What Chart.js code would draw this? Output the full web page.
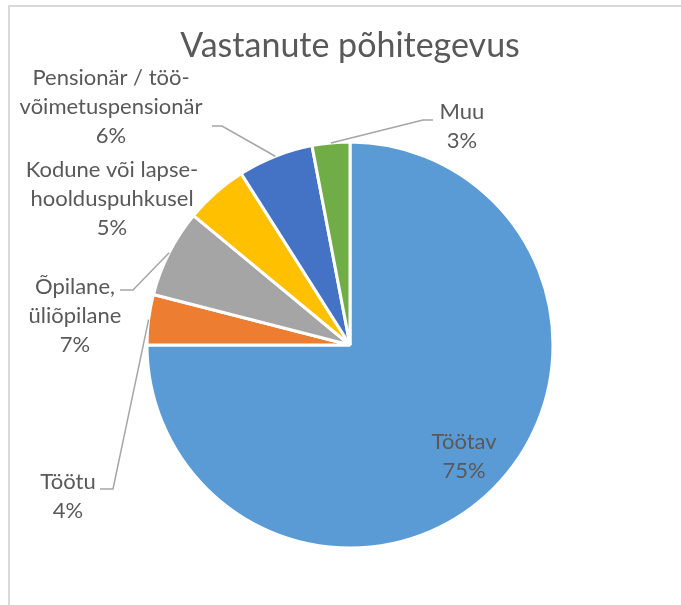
<!DOCTYPE html>
<html>
<head>
<meta charset="utf-8">
<script src="https://cdn.jsdelivr.net/npm/chart.js@4.4.1/dist/chart.umd.min.js"></script>
<style>
  html, body { margin: 0; padding: 0; background: #ffffff; }
  #wrap { position: relative; width: 681px; height: 605px; overflow: hidden; }
  #frame { position: absolute; left: 8px; top: 5px; width: 800px; height: 700px;
           border-top: 2px solid #d9d9d9; border-left: 2px solid #d9d9d9; }
  #c { position: absolute; left: 0; top: 0; }
</style>
</head>
<body>
<div id="wrap">
  <div id="frame"></div>
  <canvas id="c" width="681" height="605"></canvas>
</div>
<script>
// ---- data ----
const categories = [
  ["Töötav"],
  ["Töötu"],
  ["Õpilane,", "üliõpilane"],
  ["Kodune või lapse-", "hoolduspuhkusel"],
  ["Pensionär / töö-", "võimetuspensionär"],
  ["Muu"]
];
const values = [75, 4, 7, 5, 6, 3];
const colors = ["#5B9BD5", "#ED7D31", "#A5A5A5", "#FFC000", "#4472C4", "#70AD47"];
const titleText = "Vastanute põhitegevus";

// ---- label placement (layout only) ----
const labelLayout = [
  { cx: 464, y: 442, lead: null },
  { cx: 68,  y: 482, lead: { elbow: [113, 489], end: [100, 489] } },
  { cx: 75,  y: 287, lead: { elbow: [133, 290], end: [120, 290] } },
  { cx: 112, y: 170, lead: null },
  { cx: 111, y: 78,  lead: { elbow: [222, 126], end: [212, 126] } },
  { cx: 462, y: 112, lead: { elbow: [423, 120], end: [433, 120] } }
];
const LINE_H = 29;
const FONT = "22px Lato";
const TEXT_COLOR = "#595959";

const labelPlugin = {
  id: 'pieLabels',
  afterDatasetsDraw(chart) {
    const ctx = chart.ctx;
    const meta = chart.getDatasetMeta(0);
    ctx.save();
    meta.data.forEach((arc, i) => {
      const p = arc.getProps(['x', 'y', 'startAngle', 'endAngle', 'outerRadius'], true);
      const L = labelLayout[i];
      if (L.lead) {
        const mid = (p.startAngle + p.endAngle) / 2;
        const ax = p.x + Math.cos(mid) * p.outerRadius;
        const ay = p.y + Math.sin(mid) * p.outerRadius;
        ctx.strokeStyle = "#A6A6A6";
        ctx.lineWidth = 1.5;
        ctx.beginPath();
        ctx.moveTo(ax, ay);
        ctx.lineTo(L.lead.elbow[0], L.lead.elbow[1]);
        ctx.lineTo(L.lead.end[0], L.lead.end[1]);
        ctx.stroke();
      }
      const lines = categories[i].concat([values[i] + "%"]);
      ctx.fillStyle = TEXT_COLOR;
      ctx.font = FONT;
      ctx.textAlign = 'center';
      ctx.textBaseline = 'middle';
      lines.forEach((t, k) => ctx.fillText(t, L.cx, L.y + k * LINE_H));
    });
    ctx.restore();
  }
};

new Chart(document.getElementById('c'), {
  type: 'pie',
  data: {
    labels: categories.map(c => c.join(' ')),
    datasets: [{
      data: values,
      backgroundColor: colors,
      borderColor: '#ffffff',
      borderWidth: 3
    }]
  },
  options: {
    responsive: false,
    animation: false,
    rotation: 0,
    layout: { padding: { left: 145.5, right: 126.5, top: 0, bottom: 55.5 } },
    plugins: {
      legend: { display: false },
      tooltip: { enabled: false },
      title: {
        display: true,
        text: titleText,
        color: TEXT_COLOR,
        font: { family: 'Lato', size: 34, weight: 'normal', lineHeight: 1.2 },
        padding: { top: 26, bottom: 73.7 }
      }
    }
  },
  plugins: [labelPlugin]
});
</script>
</body>
</html>
